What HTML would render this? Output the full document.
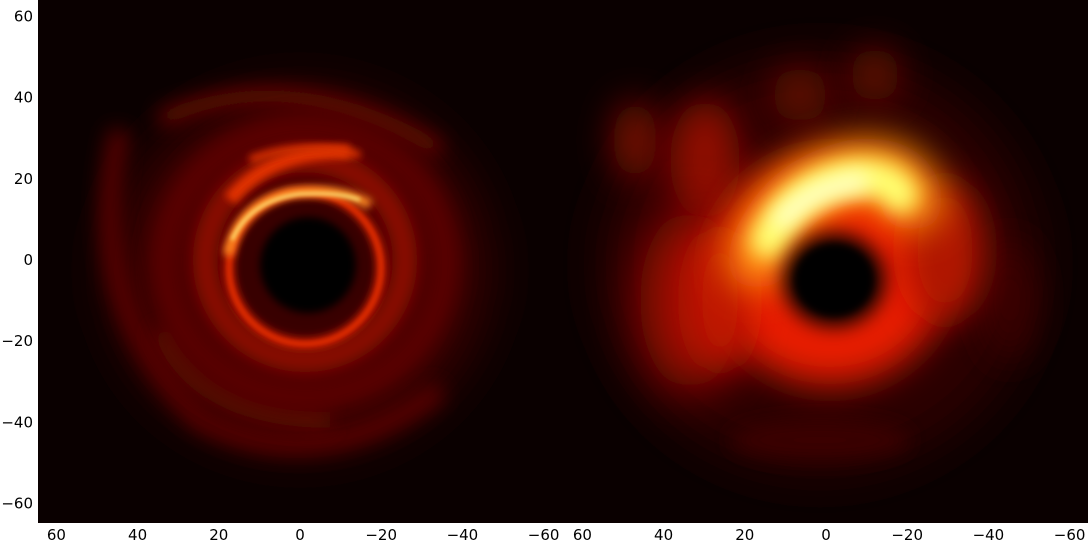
<!DOCTYPE html>
<html><head><meta charset="utf-8"><style>
html,body{margin:0;padding:0;background:#fff;width:1090px;height:543px;overflow:hidden}
svg{display:block}
text{font-family:"DejaVu Sans","Liberation Sans",sans-serif;font-size:15px;fill:#000}
</style></head><body>
<svg id="fig" width="1090" height="543">
<defs>
<filter id="b2" filterUnits="userSpaceOnUse" x="0" y="0" width="1090" height="543"><feGaussianBlur stdDeviation="2"/></filter>
<filter id="b4" filterUnits="userSpaceOnUse" x="0" y="0" width="1090" height="543"><feGaussianBlur stdDeviation="4"/></filter>
<filter id="b10" filterUnits="userSpaceOnUse" x="0" y="0" width="1090" height="543"><feGaussianBlur stdDeviation="10"/></filter>
<filter id="b18" filterUnits="userSpaceOnUse" x="0" y="0" width="1090" height="543"><feGaussianBlur stdDeviation="18"/></filter>
<filter id="b25" filterUnits="userSpaceOnUse" x="0" y="0" width="1090" height="543"><feGaussianBlur stdDeviation="25"/></filter>
<clipPath id="cl"><rect x="38" y="0" width="525" height="523"/></clipPath>
<clipPath id="cr"><rect x="563" y="0" width="525" height="523"/></clipPath>
</defs>
<g clip-path="url(#cl)">
<rect x="38" y="0" width="525" height="523" fill="#0a0000"/>
<ellipse cx="300" cy="270" rx="190" ry="180" fill="#380300" filter="url(#b25)"/>
<path d="M120,130 Q80,300 200,420 Q320,480 440,390" fill="none" stroke="#5a0600" stroke-width="20" filter="url(#b10)"/>
<path d="M160,120 Q290,60 440,150" fill="none" stroke="#6a0800" stroke-width="16" filter="url(#b10)"/>
<path d="M160,330 Q200,420 330,420" fill="none" stroke="#600700" stroke-width="18" filter="url(#b10)"/>
<ellipse cx="305" cy="262" rx="140" ry="135" fill="none" stroke="#5a0600" stroke-width="30" filter="url(#b10)"/>
<ellipse cx="305" cy="260" rx="100" ry="100" fill="none" stroke="#9a1000" stroke-width="24" filter="url(#b10)"/>
<ellipse cx="305" cy="268" rx="76" ry="76" fill="none" stroke="#d02000" stroke-width="10" filter="url(#b4)"/>
<ellipse cx="305" cy="268" rx="76" ry="76" fill="none" stroke="#e83000" stroke-width="3" filter="url(#b2)"/>
<path d="M230,200 Q270,150 350,152" fill="none" stroke="#e03000" stroke-width="14" filter="url(#b4)"/>
<path d="M250,160 Q300,140 360,155" fill="none" stroke="#d83000" stroke-width="8" filter="url(#b4)"/>
<path d="M228,255 Q238,205 290,193 Q340,186 370,205" fill="none" stroke="#ff8a20" stroke-width="10" filter="url(#b4)"/>
<path d="M232,240 Q250,200 300,194 Q340,192 360,200" fill="none" stroke="#fff080" stroke-width="3" filter="url(#b2)"/>
<circle cx="308" cy="265" r="48" fill="#050000" filter="url(#b4)"/>
</g>
<g clip-path="url(#cr)">
<rect x="563" y="0" width="525" height="523" fill="#0a0000"/>
<ellipse cx="820" cy="265" rx="220" ry="210" fill="#2a0200" filter="url(#b25)"/>
<ellipse cx="635" cy="140" rx="22" ry="40" fill="#7a0800" filter="url(#b18)"/>
<ellipse cx="705" cy="160" rx="35" ry="60" fill="#900a00" filter="url(#b18)"/>
<ellipse cx="800" cy="95" rx="28" ry="28" fill="#600700" filter="url(#b18)"/>
<ellipse cx="875" cy="75" rx="25" ry="28" fill="#600700" filter="url(#b18)"/>
<ellipse cx="1010" cy="300" rx="25" ry="60" fill="#3a0300" filter="url(#b18)"/>
<ellipse cx="820" cy="440" rx="90" ry="20" fill="#3a0300" filter="url(#b10)"/>
<ellipse cx="690" cy="300" rx="50" ry="90" fill="#a00e00" filter="url(#b25)"/>
<ellipse cx="830" cy="270" rx="120" ry="115" fill="#e81a00" filter="url(#b18)"/>
<ellipse cx="945" cy="250" rx="40" ry="70" fill="#b01200" filter="url(#b18)"/>
<ellipse cx="720" cy="300" rx="30" ry="70" fill="#c01500" filter="url(#b18)"/>
<path d="M758,258 Q782,185 858,170 Q905,166 912,200" fill="none" stroke="#ff9010" stroke-width="62" stroke-linecap="round" filter="url(#b18)"/>
<path d="M768,240 Q795,188 850,178 Q890,174 900,195" fill="none" stroke="#ffff70" stroke-width="36" stroke-linecap="round" filter="url(#b10)"/>
<path d="M782,220 Q810,188 860,182" fill="none" stroke="#ffffd0" stroke-width="18" stroke-linecap="round" filter="url(#b10)"/>
<ellipse cx="834" cy="280" rx="50" ry="46" fill="#000" filter="url(#b10)"/>
<ellipse cx="834" cy="280" rx="38" ry="35" fill="#000" filter="url(#b4)"/>
</g>
<g id="axes"></g>
</svg>
<script>
const yTicks=[60,40,20,0,-20,-40,-60];
const xTicks=[60,40,20,0,-20,-40,-60];
const scale=4.06, cy=260;
const panelCenters=[300,826];
const ax=document.getElementById('axes');
const NS='http://www.w3.org/2000/svg';
function yPos(v){return cy - v*scale;}
function xPos(c,v){return c - v*scale;}
yTicks.forEach(v=>{
  const t=document.createElementNS(NS,'text');
  
  
  t.setAttribute('x',33);t.setAttribute('y',yPos(v)+5);t.setAttribute('text-anchor','end');
  t.textContent=v<0?'\u2212'+(-v):String(v);ax.appendChild(t);
});
panelCenters.forEach(c=>{
  xTicks.forEach(v=>{
    const t=document.createElementNS(NS,'text');
    
    
    t.setAttribute('x',xPos(c,v));t.setAttribute('y',540);t.setAttribute('text-anchor','middle');
    t.textContent=v<0?'\u2212'+(-v):String(v);ax.appendChild(t);
  });
});
</script>
</body></html>
